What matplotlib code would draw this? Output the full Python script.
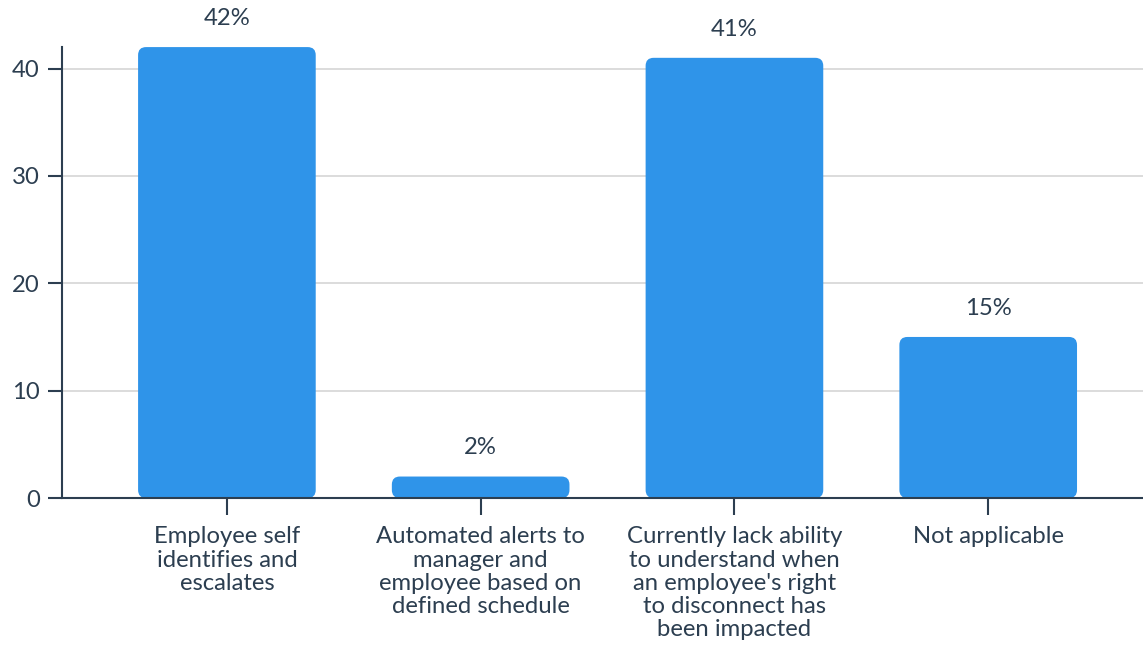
import matplotlib.pyplot as plt
from matplotlib.patches import FancyBboxPatch

categories = [
    "Employee self\nidentifies and\nescalates",
    "Automated alerts to\nmanager and\nemployee based on\ndefined schedule",
    "Currently lack ability\nto understand when\nan employee's right\nto disconnect has\nbeen impacted",
    "Not applicable",
]
values = [42, 2, 41, 15]
value_labels = ["42%", "2%", "41%", "15%"]
yticks = [0, 10, 20, 30, 40]

text_color = "#2c3e50"
bar_color = "#2f94e9"
fs = 17.2

plt.rcParams['font.family'] = ['Lato', 'DejaVu Sans']

fig = plt.figure(figsize=(11.43, 6.45), dpi=100)
ax = fig.add_axes([0.0542, 0.2279, 0.9458, 0.6991])

x = list(range(len(values)))
bars = ax.bar(x, values, width=0.7, color=bar_color, zorder=2)

ax.set_xlim(-0.65, 3.61)
ax.set_ylim(0, 42)

# swap the plain rectangles for rounded ones
ax_w = 0.9458 * 1143
ax_h = 0.6991 * 645
xu = (3.61 + 0.65) / ax_w
yu = 42 / ax_h
radius_px = 8
for b in bars:
    b.set_visible(False)
    patch = FancyBboxPatch(
        (b.get_x(), b.get_y()), b.get_width(), b.get_height(),
        boxstyle=f"round,pad=0,rounding_size={radius_px * xu}",
        mutation_aspect=yu / xu,
        facecolor=bar_color, edgecolor="none", zorder=2)
    ax.add_patch(patch)

for xi, v, lab in zip(x, values, value_labels):
    ax.annotate(lab, (xi, v), xytext=(0, 13), textcoords="offset points",
                ha="center", va="bottom", fontsize=fs, color=text_color)

ax.set_xticks(x)
ax.set_xticklabels(categories, fontsize=fs, color=text_color, linespacing=1.13,
                   va="top")
ax.set_yticks(yticks)
ax.set_yticklabels([str(t) for t in yticks], fontsize=fs, color=text_color)

ax.tick_params(axis="x", length=12, width=1.5, color=text_color, pad=8.5)
ax.tick_params(axis="y", length=10, width=1.5, color=text_color, pad=6)

ax.grid(axis="y", color="#d9d9d9", linewidth=1.3, zorder=0)
ax.set_axisbelow(True)

for side in ["top", "right"]:
    ax.spines[side].set_visible(False)
for side in ["left", "bottom"]:
    ax.spines[side].set_color(text_color)
    ax.spines[side].set_linewidth(1.5)
    ax.spines[side].set_zorder(3)

fig.savefig("out.png", dpi=100)
